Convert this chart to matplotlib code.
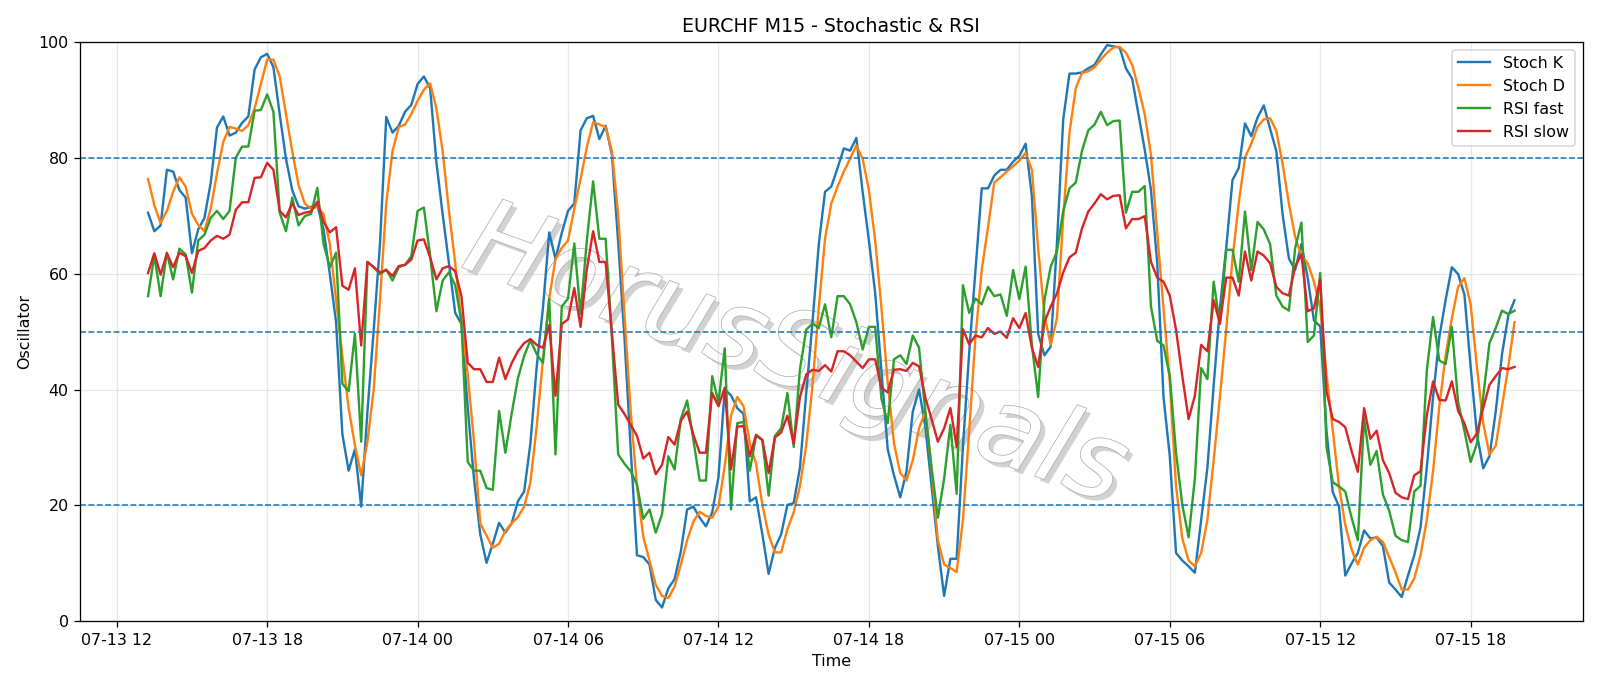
import matplotlib
matplotlib.use('Agg')
import matplotlib.pyplot as plt
import matplotlib.dates as mdates
import matplotlib.patheffects as pe
import pandas as pd

# M15 bars, 07-13 13:15 .. 07-15 19:45
start = '2024-07-13 13:15'
n_bars = 219

stoch_k = [
    70.5, 67.3, 68.3, 77.9, 77.6, 74.4, 73.1, 63.5, 67.6, 69.6, 75.7, 85.2, 87.1, 83.8, 84.3, 86.0, 87.1, 95.2, 97.3, 97.9,
    95.6, 87.5, 79.8, 74.4, 71.6, 71.2, 71.5,
    71.8, 67.6, 59.9, 51.6, 32.3, 26.0, 29.7, 19.8, 36.2, 50.3, 65.1, 87.0, 84.3, 85.5, 87.9, 89.1, 92.7, 94.0, 92.0,
    79.2, 70.2, 61.8, 53.2, 51.3, 36.8, 24.6, 15.0,
    10.1, 13.4, 17.0, 15.3, 16.9, 20.7, 22.4, 30.7, 43.9, 54.1, 67.1, 62.5, 67.0, 70.8, 72.1, 84.7, 86.8, 87.2, 83.2,
    85.5, 80.5, 65.4, 49.0, 29.7, 11.4, 11.1, 9.8,
    3.7, 2.4, 5.7, 7.3, 12.1, 19.3, 19.8, 17.9, 16.4, 18.8, 24.9, 40.0, 39.0, 36.8, 35.8, 20.7, 21.4, 15.0, 8.2, 12.7,
    15.0, 20.1, 20.4, 26.5, 39.4, 51.6, 65.0,
    74.1, 75.0, 78.2, 81.6, 81.2, 83.4, 74.1, 65.7, 56.7, 43.2, 29.7, 25.2, 21.4, 25.9, 36.2, 40.0, 33.6, 23.3, 13.0,
    4.4, 10.8, 10.8, 30.1, 46.4, 60.6, 74.7, 74.7,
    76.9, 77.9, 77.9, 79.3, 80.3, 82.4, 73.4, 49.6, 45.9, 47.4, 65.2, 86.6, 94.5, 94.5, 94.7, 95.4, 96.0, 97.8, 99.4,
    99.2, 99.0, 95.4, 93.6, 87.5, 81.4, 74.4, 61.8,
    38.7, 28.5, 11.8, 10.5, 9.5, 8.4, 17.5, 26.5, 40.7, 54.1, 64.4, 76.1, 78.2, 85.9, 83.7, 86.9, 89.0, 85.0, 81.1,
    70.2, 62.6, 60.6, 65.1, 59.3, 51.9, 50.9, 32.9,
    22.3, 19.8, 7.9, 10.0, 11.8, 15.7, 14.3, 14.5, 13.0, 6.7, 5.5, 4.2, 7.9, 11.4, 16.2, 26.5, 38.7, 49.0, 55.4, 61.1,
    59.9, 56.4, 43.9, 32.3, 26.4, 28.5, 36.2, 46.1, 52.7, 55.4,
]

stoch_d = [
    76.3, 71.8, 68.7, 70.8, 74.1, 76.6, 75.0, 70.3, 68.4, 67.3, 71.2, 77.3, 82.7, 85.3, 85.0, 84.6, 85.6, 88.5, 92.7, 96.9,
    96.9, 94.0, 87.5, 81.1, 75.3, 72.1, 71.2,
    71.5, 70.2, 65.1, 55.4, 45.8, 36.8, 30.4, 25.2, 31.0, 40.0, 55.4, 72.1, 81.1, 85.3, 85.7, 87.5, 89.8, 91.7, 92.8,
    88.5, 81.1, 70.8, 61.8, 51.6, 42.6, 31.0, 16.9,
    14.8, 12.7, 13.4, 15.6, 16.9, 18.0, 19.8, 24.0, 33.6, 45.2, 55.7, 62.5, 64.4, 65.7, 71.2, 76.3, 81.8, 86.1, 85.7,
    85.3, 81.1, 70.2, 52.9, 36.1, 23.3, 14.6, 10.5,
    6.3, 4.4, 4.0, 6.0, 9.8, 14.0, 17.2, 18.9, 18.2, 17.9, 19.8, 26.8, 35.5, 38.7, 37.1, 30.7, 27.2, 20.1, 15.0, 11.9,
    11.9, 15.9, 18.8, 23.3, 30.4, 40.7, 54.0,
    66.0, 72.1, 75.0, 77.6, 79.8, 82.1, 79.8, 74.4, 65.7, 54.1, 41.3, 30.7, 25.6, 24.3, 27.8, 33.3, 36.2, 26.2, 14.0,
    9.8, 9.2, 8.5, 17.5, 32.9, 49.0, 60.6, 68.0,
    75.7, 76.6, 77.6, 78.5, 79.5, 80.8, 77.9, 64.4, 52.9, 47.7, 52.3, 69.6, 84.3, 92.0, 94.6, 94.9, 95.6, 96.9, 98.1,
    99.0, 99.1, 98.1, 96.0, 92.0, 87.5, 80.5, 67.0,
    54.0, 41.3, 23.3, 14.3, 10.5, 9.5, 11.8, 17.5, 27.8, 38.7, 50.3, 62.5, 72.1, 80.0, 82.4, 85.3, 86.6, 86.8, 84.6,
    78.9, 72.1, 66.3, 63.1, 61.8, 58.6, 54.1, 42.6,
    32.9, 23.3, 16.6, 12.4, 9.8, 12.7, 14.0, 14.6, 13.7, 11.1, 8.5, 5.5, 5.5, 7.4, 11.4, 17.5, 25.9, 37.1, 45.8, 52.3,
    57.7, 59.2, 54.7, 43.9, 34.2, 28.8, 30.3, 37.1, 43.9, 51.6,
]

rsi_fast = [
    56.1, 63.1, 56.1, 63.6, 59.0, 64.3, 63.3, 56.7, 65.7, 66.7, 69.6, 70.8, 69.4, 70.8, 80.0, 81.9, 81.9, 88.1, 88.2, 90.9,
    87.9, 70.5, 67.3, 73.1, 68.3, 69.9, 70.3,
    74.8, 65.1, 61.1, 63.6, 41.0, 39.7, 49.6, 31.0, 62.0, 61.1, 59.9, 60.7, 58.8, 61.1, 61.5, 63.0, 70.8, 71.4, 63.1,
    53.5, 58.8, 60.2, 58.0, 51.6, 27.5, 26.0, 26.0,
    23.0, 22.7, 36.3, 29.1, 35.8, 41.9, 45.8, 48.5, 46.1, 44.6, 55.6, 28.8, 54.3, 55.7, 65.2, 53.0, 65.7, 75.9, 66.0,
    66.0, 49.0, 28.8, 27.2, 25.9, 23.6, 17.7, 19.3,
    15.3, 18.5, 28.5, 26.2, 34.9, 38.1, 31.3, 24.3, 24.3, 42.3, 37.8, 47.1, 19.3, 34.2, 34.4, 26.0, 32.0, 31.3, 21.7,
    32.0, 33.3, 39.4, 30.1, 43.5, 50.3, 51.4, 50.6,
    54.7, 49.0, 56.1, 56.1, 54.7, 51.6, 46.9, 50.8, 50.8, 38.4, 34.2, 45.2, 45.9, 44.4, 49.3, 47.2, 36.2, 26.5, 17.9,
    24.6, 33.9, 22.0, 58.0, 53.2, 55.7, 54.7, 57.7,
    56.1, 56.4, 52.7, 60.6, 55.6, 61.2, 47.7, 38.7, 55.4, 61.2, 63.8, 70.8, 74.7, 75.7, 81.2, 84.7, 85.7, 87.9, 85.6,
    86.3, 86.4, 70.5, 74.1, 74.1, 75.1, 54.3, 48.4,
    47.6, 42.3, 29.1, 20.1, 14.5, 24.6, 43.7, 41.8, 58.6, 51.3, 64.1, 64.1, 58.6, 70.7, 60.6, 68.9, 67.6, 65.1, 56.2,
    54.3, 53.6, 64.4, 68.8, 48.2, 49.3, 60.1, 30.1,
    24.0, 23.3, 22.4, 17.9, 14.0, 35.0, 27.0, 29.4, 21.9, 19.1, 14.8, 14.0, 13.7, 22.4, 23.4, 43.2, 52.5, 45.0, 44.4,
    50.8, 37.8, 32.9, 27.5, 30.7, 38.7, 48.0, 50.6, 53.6, 53.0, 53.6,
]

rsi_slow = [
    60.1, 63.5, 59.8, 63.5, 61.1, 63.6, 63.0, 60.1, 63.9, 64.4, 65.7, 66.5, 66.0, 66.7, 71.0, 72.3, 72.3, 76.5, 76.6, 79.1,
    77.9, 70.8, 69.7, 72.1, 70.1, 70.5, 70.7,
    72.4, 68.9, 67.1, 68.0, 57.9, 57.2, 60.9, 47.6, 62.0, 61.1, 60.2, 60.6, 59.6, 61.3, 61.5, 62.4, 65.7, 65.9, 62.8,
    59.0, 60.9, 61.3, 60.4, 56.1, 44.6, 43.5, 43.5,
    41.3, 41.3, 45.5, 41.8, 44.5, 46.6, 48.0, 48.7, 47.7, 47.2, 51.1, 38.9, 51.3, 52.1, 57.5, 50.8, 60.7, 67.3, 62.0,
    62.0, 49.6, 37.4, 35.8, 33.9, 32.0, 28.1, 29.1,
    25.4, 27.0, 31.8, 30.5, 34.6, 36.2, 32.2, 29.1, 29.1, 39.4, 37.1, 40.3, 26.2, 33.6, 33.7, 28.5, 32.2, 31.3, 25.6,
    31.7, 32.6, 35.5, 30.7, 38.7, 42.6, 43.4, 43.2,
    44.2, 43.1, 46.6, 46.6, 45.9, 44.8, 43.7, 45.2, 45.2, 40.3, 39.5, 43.4, 43.5, 43.2, 44.6, 44.0, 38.6, 34.9, 31.0,
    33.3, 36.8, 30.1, 50.4, 47.8, 49.3, 49.0, 50.6,
    49.6, 50.0, 48.9, 52.3, 50.6, 53.2, 47.2, 43.9, 51.6, 54.3, 56.6, 60.2, 62.8, 63.6, 67.8, 70.7, 72.1, 73.7, 72.8,
    73.4, 73.5, 67.8, 69.4, 69.4, 69.9, 62.0, 59.3,
    58.6, 56.2, 50.3, 42.3, 34.9, 38.9, 47.7, 46.6, 55.4, 51.4, 59.3, 59.3, 56.2, 63.8, 58.8, 63.8, 63.1, 61.8, 57.7,
    56.6, 56.2, 61.2, 63.3, 53.5, 54.0, 59.0, 39.7,
    34.9, 34.4, 33.5, 29.4, 25.8, 36.8, 31.5, 32.9, 27.8, 25.6, 22.2, 21.4, 21.1, 25.2, 25.9, 35.5, 41.4, 38.2, 38.1,
    41.4, 36.3, 34.2, 30.9, 32.4, 36.8, 40.8, 42.3, 43.7, 43.5, 43.9,
]

levels = [20, 50, 80]

times = pd.date_range(start, periods=n_bars, freq='15min')

fig, ax = plt.subplots(figsize=(14, 6.0025), dpi=1600 / 14)
ax.plot(times, stoch_k, label='Stoch K')
ax.plot(times, stoch_d, label='Stoch D')
ax.plot(times, rsi_fast, label='RSI fast')
ax.plot(times, rsi_slow, label='RSI slow')

for lvl in levels:
    ax.axhline(lvl, color='tab:blue', linestyle='--', linewidth=1)

ax.set_ylim(0, 100)
ax.set_title('EURCHF M15 - Stochastic & RSI')
ax.set_xlabel('Time')
ax.set_ylabel('Oscillator')
ax.grid(True, alpha=0.3)
ax.xaxis.set_major_locator(mdates.HourLocator(byhour=[0, 6, 12, 18]))
ax.xaxis.set_major_formatter(mdates.DateFormatter('%m-%d %H'))
ax.legend(loc='upper right')

# watermark
ax.text(0.476, 0.455, 'HorusSignals', transform=ax.transAxes, fontsize=67,
        style='italic', color='white', rotation=-20, ha='center', va='center',
        zorder=0,
        path_effects=[pe.SimplePatchShadow(offset=(3, -3), shadow_rgbFace='#999999', alpha=0.45),
                      pe.Stroke(linewidth=1.0, foreground='#b0b0b0'),
                      pe.Normal()])

plt.tight_layout()
plt.savefig('out.png')
